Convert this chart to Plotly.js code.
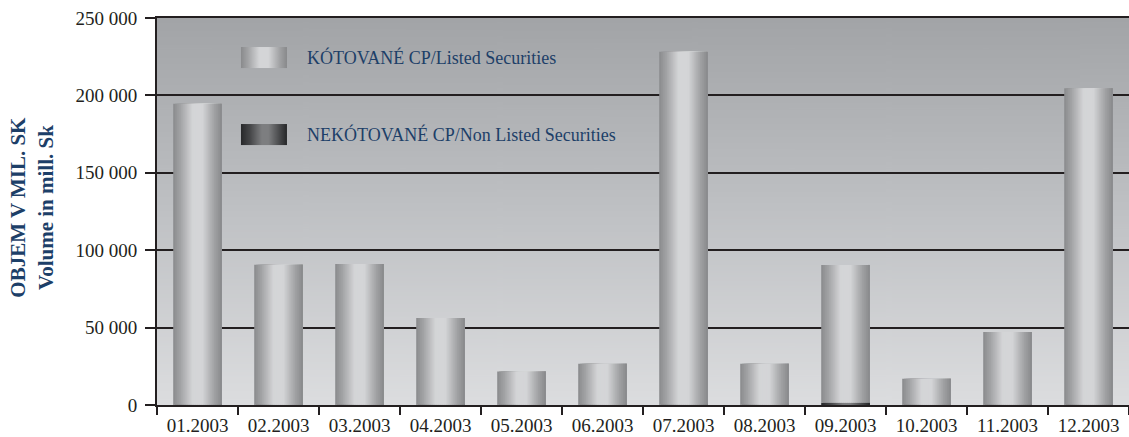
<!DOCTYPE html>
<html>
<head>
<meta charset="utf-8">
<script src="https://cdn.plot.ly/plotly-3.0.1.min.js"></script>
<style>
  body { margin: 0; background: #fff; }
  #chart { width: 1129px; height: 437px; }
</style>
</head>
<body>
<div id="chart"></div>
<script>
// months and volumes (mill. Sk)
const months = ['01.2003', '02.2003', '03.2003', '04.2003', '05.2003', '06.2003',
                '07.2003', '08.2003', '09.2003', '10.2003', '11.2003', '12.2003']
const listed = [194500, 90500, 91000, 56000, 21500, 26500, 228000, 26500, 89000, 16800, 47000, 204500]
const nonListed = [150, 100, 100, 150, 100, 100, 150, 100, 1500, 100, 150, 150]
const yTicks = [0, 50000, 100000, 150000, 200000, 250000]

const legendNames = ['KÓTOVANÉ CP/Listed Securities', 'NEKÓTOVANÉ CP/Non Listed Securities']

// cylinder-ish shading profile, left -> right
const lightStops = [[0, 138], [0.15, 162], [0.4, 212], [0.6, 212], [0.85, 160], [1, 136]]
const darkStops = [[0, 40], [0.2, 70], [0.45, 125], [0.6, 125], [0.85, 70], [1, 38]]

function shade(stops, t) {
    for (let i = 1; i < stops.length; i++) {
        if (t <= stops[i][0]) {
            const a = stops[i - 1], b = stops[i]
            const v = Math.round(a[1] + (b[1] - a[1]) * (t - a[0]) / (b[0] - a[0]))
            return 'rgb(' + v + ',' + (v + 1) + ',' + (v + 3) + ')'
        }
    }
    return 'rgb(128,128,128)'
}

function gradientUrl(w, h, stops, horizontal, colorFn) {
    const c = document.createElement('canvas')
    c.width = w; c.height = h
    const g = c.getContext('2d')
    const grad = horizontal ? g.createLinearGradient(0, 0, w, 0) : g.createLinearGradient(0, 0, 0, h)
    stops.forEach(s => grad.addColorStop(s[0], colorFn ? colorFn(s) : s[1]))
    g.fillStyle = grad
    g.fillRect(0, 0, w, h)
    return c.toDataURL()
}

// each stripe runs to the right edge of the bar, the next one covers the rest
const barWidth = 0.6
const nStripes = 24
const traces = []
for (let i = 0; i < nStripes; i++) {
    const t = (i + 0.5) / nStripes
    const off = -barWidth / 2 + i * barWidth / nStripes
    const w = barWidth - i * barWidth / nStripes
    traces.push({
        type: 'bar', x: months, y: nonListed, base: 0,
        width: w, offset: off,
        marker: { color: shade(darkStops, t), line: { width: 0 } },
        hoverinfo: 'skip', showlegend: false
    })
    traces.push({
        type: 'bar', x: months, y: listed, base: nonListed,
        width: w, offset: off,
        marker: { color: shade(lightStops, t), line: { width: 0 } },
        hoverinfo: 'skip', showlegend: false
    })
}

const bgUrl = gradientUrl(10, 400, [[0, '#a2a4a7'], [0.5, '#bfc1c4'], [1, '#dcdddf']], false)
const sw1 = gradientUrl(60, 20, lightStops, true, s => shade(lightStops, s[0]))
const sw2 = gradientUrl(60, 20, darkStops, true, s => shade(darkStops, s[0]))

const serif = 'Liberation Serif, Times New Roman, serif'
const blue = '#1d3f68'

const layout = {
    width: 1129,
    height: 437,
    margin: { l: 157, r: 0, t: 18, b: 32 },
    paper_bgcolor: '#ffffff',
    plot_bgcolor: 'rgba(0,0,0,0)',
    barmode: 'overlay',
    separators: '. ',
    showlegend: false,
    font: { family: serif, size: 19, color: '#231f20' },
    xaxis: {
        type: 'category',
        showline: true, linecolor: '#231f20', linewidth: 2, mirror: true,
        ticks: 'outside', tickson: 'boundaries', ticklen: 8, tickwidth: 2, tickcolor: '#231f20',
        ticklabelstandoff: 2,
        showgrid: false,
        tickfont: { family: serif, size: 19, color: '#231f20' }
    },
    yaxis: {
        range: [0, 250000],
        tickvals: yTicks,
        tickformat: ',d',
        showline: true, linecolor: '#231f20', linewidth: 2,
        ticks: 'outside', ticklen: 10, tickwidth: 2, tickcolor: '#231f20',
        ticklabelstandoff: 4,
        showgrid: true, gridcolor: '#231f20', gridwidth: 2,
        zeroline: false,
        tickfont: { family: serif, size: 19, color: '#231f20' }
    },
    images: [
        { source: bgUrl, xref: 'paper', yref: 'paper', x: 0, y: 1, sizex: 1, sizey: 1,
          sizing: 'stretch', layer: 'below' },
        { source: sw1, xref: 'paper', yref: 'paper', x: 0.0864, y: 0.925, sizex: 0.0473, sizey: 0.0543,
          sizing: 'stretch', layer: 'above' },
        { source: sw2, xref: 'paper', yref: 'paper', x: 0.0864, y: 0.726, sizex: 0.0473, sizey: 0.0543,
          sizing: 'stretch', layer: 'above' }
    ],
    annotations: [
        { text: legendNames[0], xref: 'paper', yref: 'paper', x: 0.1523, y: 0.899,
          xanchor: 'left', yanchor: 'middle', showarrow: false,
          font: { family: serif, size: 18, color: blue } },
        { text: legendNames[1], xref: 'paper', yref: 'paper', x: 0.1523, y: 0.698,
          xanchor: 'left', yanchor: 'middle', showarrow: false,
          font: { family: serif, size: 18, color: blue } },
        { text: '<b>OBJEM V MIL. SK</b><br><b>Volume in mill. Sk</b>', xref: 'paper', yref: 'paper',
          x: -0.1286, y: 0.51, xanchor: 'center', yanchor: 'middle', textangle: -90, showarrow: false,
          font: { family: serif, size: 21, color: blue } }
    ]
}

Plotly.newPlot('chart', traces, layout, { displayModeBar: false, staticPlot: true })
</script>
</body>
</html>
